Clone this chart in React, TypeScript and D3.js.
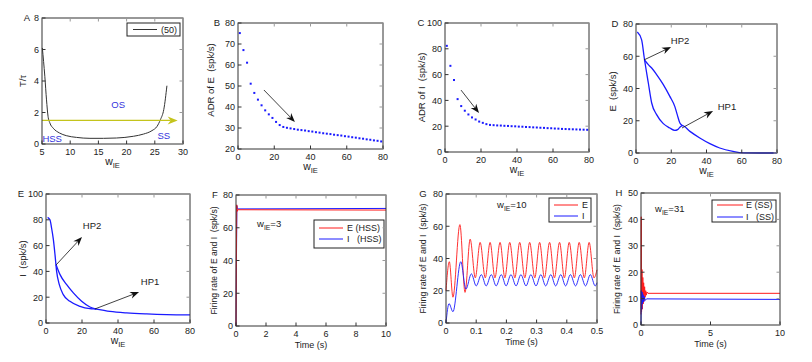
import React from 'react';
import * as d3 from 'd3';

const FONT = '"Liberation Sans", Arial, Helvetica, sans-serif';
const INK = '#222';
const RED = '#ff1a1a';
const BLUE = '#1a1aff';

// A: T/tau against w_IE
const aW = [5.06, 5.5, 5.8, 6.07, 6.4, 7, 8.1, 9.3, 11.1, 13.5, 15.9, 18.2, 21.2, 23, 24.5, 25.4, 26, 26.6, 27.15];
const aT = [6.1, 4.3, 2.8, 1.76, 1.33, 1.0, 0.7, 0.53, 0.42, 0.36, 0.36, 0.38, 0.49, 0.63, 0.85, 1.12, 1.55, 2.2, 3.7];

// B, C: average discharge rates
const wOdd = [1, 3, 5, 7, 9, 11, 13, 15, 17, 19, 21, 23, 25, 27, 29, 31, 33, 35, 37, 39,
  41, 43, 45, 47, 49, 51, 53, 55, 57, 59, 61, 63, 65, 67, 69, 71, 73, 75, 77, 79];
const adrE = [75.2, 67.1, 61.1, 51.1, 46.7, 43.5, 40.8, 38.4, 36.5, 34.8, 32.9, 31.4, 30.5, 30.1, 29.8, 29.5, 29.2, 29.0, 28.8, 28.5,
  28.3, 28.0, 27.8, 27.5, 27.3, 27.1, 26.8, 26.6, 26.4, 26.1, 25.9, 25.6, 25.4, 25.1, 24.9, 24.6, 24.4, 24.1, 23.9, 23.6];
const adrI = [82.3, 66.8, 55.8, 41, 35.6, 32, 29.1, 26.8, 25.2, 23.6, 22.6, 21.6, 21, 20.8, 20.6, 20.5, 20.3, 20.2, 20.0, 19.9,
  19.7, 19.6, 19.4, 19.3, 19.1, 19.0, 18.8, 18.7, 18.5, 18.4, 18.2, 18.1, 17.9, 17.8, 17.7, 17.6, 17.5, 17.4, 17.3, 17.2];

// D: E bifurcation branches
const dLowW = [0.75, 3.2, 4.7, 7, 8.9, 11.7, 15.5, 19.2, 22, 23.6, 24.9, 26.4, 30.6, 36.2, 41.9, 47.5, 55, 60.8, 70, 80];
const dLowE = [75, 70.2, 58.9, 43.4, 31, 23.8, 18.2, 15.5, 14, 14.5, 15.9, 17, 13.4, 9.3, 5.8, 3.1, 1, 0.1, 0, 0];
const dUpW = [4.9, 7, 8.9, 11.7, 15.5, 19.2, 22, 23.4, 24.9, 26.4];
const dUpE = [57.5, 54.8, 52.7, 48.6, 42.4, 35.1, 28.9, 23.8, 18.6, 17];

// E: I bifurcation branches
const eLowW = [0.9, 2.2, 3.1, 4.1, 5, 5.9, 7.4, 9.6, 13.3, 18.9, 24.4, 28, 35.5, 44.8, 55.9, 67, 80];
const eLowI = [81.9, 80, 73.6, 64.6, 53, 40, 29.7, 22, 16.8, 12.9, 11.1, 10.8, 9, 7.8, 7, 6.5, 6.3];
const eUpW = [5.6, 7.8, 11.5, 15.2, 19.8, 24.4, 28];
const eUpI = [45.2, 37.5, 29.7, 23.3, 16.8, 12.4, 10.8];

// F: w_IE = 3
const fTimeE = [0, 0.02, 0.05, 0.08, 0.12, 10];
const fRateE = [0, 35, 74, 70, 71, 70.8];
const fTimeI = [0, 0.03, 0.06, 0.09, 10];
const fRateI = [0, 40, 73.5, 71.5, 71.8];

// G: w_IE = 10
const gTimeE = [0, 0.011, 0.023, 0.046, 0.063, 0.080, 0.097, 0.113, 0.130, 0.146, 0.162, 0.179, 0.195, 0.211, 0.228, 0.244,
  0.261, 0.277, 0.294, 0.310, 0.326, 0.343, 0.359, 0.376, 0.392, 0.408, 0.425, 0.441, 0.458, 0.474, 0.490, 0.5];
const gRateE = [20, 38, 16, 61, 19, 52, 28, 50, 28, 50, 28, 50, 28, 50, 28, 50,
  28, 50, 28, 50, 28, 50, 28, 50, 28, 50, 28, 50, 28, 50, 28, 33];
const gTimeI = [0, 0.010, 0.023, 0.049, 0.066, 0.084, 0.100, 0.117, 0.133, 0.150, 0.166, 0.183, 0.199, 0.215, 0.232, 0.248,
  0.265, 0.281, 0.298, 0.314, 0.330, 0.347, 0.363, 0.380, 0.396, 0.412, 0.429, 0.445, 0.462, 0.478, 0.494, 0.5];
const gRateI = [0, 12, 7, 38, 21, 30.5, 23, 30, 23, 30, 23, 30, 23, 30, 23, 30,
  23, 30, 23, 30, 23, 30, 23, 30, 23, 30, 23, 30, 23, 30, 23, 25];

// H: w_IE = 31
const hTimeE = [0, 0.02, 0.04, 0.07, 0.1, 0.13, 0.16, 0.19, 0.22, 0.26, 0.3, 0.34, 0.38, 0.43, 0.5, 10];
const hRateE = [4, 41, 5, 21, 6, 18, 8, 16, 9, 14.5, 10.5, 13, 11.3, 12.5, 12, 12];
const hTimeI = [0, 0.02, 0.05, 0.08, 0.11, 0.15, 0.19, 0.24, 0.3, 0.4, 10];
const hRateI = [0, 13, 6, 12.5, 8, 11.5, 8.7, 10.8, 9.3, 9.9, 9.7];

type Frame = { l: number; r: number; t: number; b: number };
type Sc = d3.ScaleLinear<number, number>;

function Arrow({ x1, y1, x2, y2, color = '#111', len = 9, wid = 7, sw = 0.8 }:
  { x1: number; y1: number; x2: number; y2: number; color?: string; len?: number; wid?: number; sw?: number }) {
  const a = Math.atan2(y2 - y1, x2 - x1);
  const c = Math.cos(a), s = Math.sin(a);
  const bx = x2 - len * c, by = y2 - len * s;
  const nx = x2 - len * 0.7 * c, ny = y2 - len * 0.7 * s;
  const pts = `${x2},${y2} ${bx - s * wid / 2},${by + c * wid / 2} ${nx},${ny} ${bx + s * wid / 2},${by - c * wid / 2}`;
  return (
    <g>
      <line x1={x1} y1={y1} x2={nx} y2={ny} stroke={color} strokeWidth={sw} />
      <polygon points={pts} fill={color} />
    </g>
  );
}

function WIE({ x, y, anchor = 'middle', size = 10, rest = '' }: { x: number; y: number; anchor?: string; size?: number; rest?: string }) {
  return (
    <text x={x} y={y} textAnchor={anchor} fontSize={size} fill={INK}>
      <tspan>w</tspan>
      <tspan dy={3} fontSize={size * 0.72}>IE</tspan>
      {rest && <tspan dy={-3}>{rest}</tspan>}
    </text>
  );
}

function Panel({ f, xd, yd, xt, yt, letter, letterX, ylab, ylabX, ylabDy = 0, ylabLen, xlab, children }: {
  f: Frame; xd: [number, number]; yd: [number, number]; xt: number[]; yt: number[];
  letter: string; letterX: number; ylab: string; ylabX: number; ylabDy?: number; ylabLen?: number; xlab: 'w' | 'time';
  children: (x: Sc, y: Sc) => React.ReactNode;
}) {
  const x = d3.scaleLinear().domain(xd).range([f.l, f.r]);
  const y = d3.scaleLinear().domain(yd).range([f.b, f.t]);
  const tk = 3.5;
  const cx = (f.l + f.r) / 2;
  const cy = (f.t + f.b) / 2 + ylabDy;
  return (
    <g>
      {children(x, y)}
      <rect x={f.l} y={f.t} width={f.r - f.l} height={f.b - f.t} fill="none" stroke="#333" strokeWidth={1} />
      {xt.map((v) => (
        <g key={'x' + v}>
          <line x1={x(v)} x2={x(v)} y1={f.b} y2={f.b - tk} stroke="#333" />
          <line x1={x(v)} x2={x(v)} y1={f.t} y2={f.t + tk} stroke="#999" />
          <text x={x(v)} y={f.b + 10.5} textAnchor="middle" fontSize={9} fill={INK}>{v}</text>
        </g>
      ))}
      {yt.map((v) => (
        <g key={'y' + v}>
          <line x1={f.l} x2={f.l + tk} y1={y(v)} y2={y(v)} stroke="#333" />
          <line x1={f.r} x2={f.r - tk} y1={y(v)} y2={y(v)} stroke="#999" />
          <text x={f.l - 3} y={y(v) + 3.3} textAnchor="end" fontSize={9} fill={INK}>{v}</text>
        </g>
      ))}
      <text x={letterX} y={f.t + 3.3} textAnchor="middle" fontSize={9.5} fill={INK}>{letter}</text>
      <text transform={`translate(${ylabX},${cy}) rotate(-90)`} textAnchor="middle" dominantBaseline="central"
        fontSize={ylabLen ? 8.5 : 9.5} fill={INK} style={{ whiteSpace: 'pre' }}
        textLength={ylabLen} lengthAdjust={ylabLen ? 'spacingAndGlyphs' : undefined}>{ylab}</text>
      {xlab === 'w'
        ? <WIE x={cx} y={f.b + 21} size={10.5} />
        : <text x={cx} y={f.b + 22} textAnchor="middle" fontSize={9} fill={INK}>Time (s)</text>}
    </g>
  );
}

function Legend({ x0, x1, y0, y1, items }: {
  x0: number; x1: number; y0: number; y1: number; items: { label: string; color: string; y: number; lx0: number; lx1: number; tx: number }[];
}) {
  return (
    <g>
      <rect x={x0} y={y0} width={x1 - x0} height={y1 - y0} fill="#fff" stroke="#222" strokeWidth={1} />
      {items.map((it) => (
        <g key={it.label}>
          <line x1={it.lx0} x2={it.lx1} y1={it.y} y2={it.y} stroke={it.color} strokeWidth={1} />
          <text x={it.tx} y={it.y + 3.3} fontSize={9} fill={INK} style={{ whiteSpace: 'pre' }}>{it.label}</text>
        </g>
      ))}
    </g>
  );
}

function path(xs: number[], ys: number[], x: Sc, y: Sc, curve: d3.CurveFactory = d3.curveLinear) {
  const gen = d3.line<number>().x((_, i) => x(xs[i])).y((_, i) => y(ys[i])).curve(curve);
  return gen(xs) || '';
}

export default function App() {
  const wTicks = [0, 20, 40, 60, 80];
  return (
    <svg width={812} height={362} style={{ position: 'absolute', left: 0, top: 0, background: '#fff' }} fontFamily={FONT}>
      <rect width={812} height={362} fill="#fff" />

      <Panel f={{ l: 42, r: 183, t: 18, b: 144 }} xd={[5, 30]} yd={[0, 8]} xt={[5, 10, 15, 20, 25, 30]} yt={[0, 2, 4, 6, 8]}
        letter="A" letterX={27} ylab="T/τ" ylabX={22} xlab="w">
        {(x, y) => (
          <g>
            <path d={path(aW, aT, x, y, d3.curveMonotoneX)} fill="none" stroke="#333" strokeWidth={1} />
            <Arrow x1={x(5)} y1={y(1.5)} x2={x(29.05)} y2={y(1.5)} color="#c4c41c" len={10} wid={8} sw={1.4} />
            <text x={x(18.5)} y={y(2.5) + 3.5} textAnchor="middle" fontSize={9.5} fill="#3333dd">OS</text>
            <text x={x(6.8)} y={y(0.38) + 3.5} textAnchor="middle" fontSize={9.5} fill="#3333dd">HSS</text>
            <text x={x(26.6)} y={y(0.57) + 3.5} textAnchor="middle" fontSize={9.5} fill="#3333dd">SS</text>
            <Legend x0={127} x1={180} y0={23} y1={36}
              items={[{ label: '(50)', color: '#333', y: 29.5, lx0: 133, lx1: 157, tx: 161 }]} />
          </g>
        )}
      </Panel>

      <Panel f={{ l: 238, r: 383, t: 23, b: 149 }} xd={[0, 80]} yd={[20, 80]} xt={wTicks} yt={[20, 30, 40, 50, 60, 70, 80]}
        letter="B" letterX={217} ylab="ADR of E  (spk/s)" ylabX={210} ylabDy={-6} xlab="w">
        {(x, y) => (
          <g>
            {wOdd.map((w, i) => <rect key={w} x={x(w) - 1} y={y(adrE[i]) - 1} width={2} height={2} fill={BLUE} />)}
            <Arrow x1={x(14.3)} y1={y(48.1)} x2={x(31.4)} y2={y(32.9)} />
          </g>
        )}
      </Panel>

      <Panel f={{ l: 445, r: 589, t: 23, b: 152 }} xd={[0, 80]} yd={[0, 100]} xt={wTicks} yt={[0, 20, 40, 60, 80, 100]}
        letter="C" letterX={421} ylab="ADR of I  (spk/s)" ylabX={421} xlab="w">
        {(x, y) => (
          <g>
            {wOdd.map((w, i) => <rect key={w} x={x(w) - 1} y={y(adrI[i]) - 1} width={2} height={2} fill={BLUE} />)}
            <Arrow x1={x(8.9)} y1={y(48)} x2={x(18.9)} y2={y(30.2)} />
          </g>
        )}
      </Panel>

      <Panel f={{ l: 636, r: 777, t: 24, b: 153 }} xd={[0, 80]} yd={[0, 80]} xt={wTicks} yt={[0, 20, 40, 60, 80]}
        letter="D" letterX={615} ylab="E  (spk/s)" ylabX={612} ylabDy={3} xlab="w">
        {(x, y) => (
          <g>
            <path d={path(dLowW, dLowE, x, y, d3.curveMonotoneX)} fill="none" stroke={BLUE} strokeWidth={1.3} />
            <path d={path(dUpW, dUpE, x, y, d3.curveMonotoneX)} fill="none" stroke={BLUE} strokeWidth={1.3} />
            <Arrow x1={x(4.5)} y1={y(57.7)} x2={x(19.9)} y2={y(65.7)} />
            <Arrow x1={x(26.1)} y1={y(15.5)} x2={x(43.7)} y2={y(26)} />
            <text x={x(25)} y={y(69.5) + 3.5} textAnchor="middle" fontSize={9.5} fill={INK}>HP2</text>
            <text x={x(51.6)} y={y(29.1) + 3.5} textAnchor="middle" fontSize={9.5} fill={INK}>HP1</text>
          </g>
        )}
      </Panel>

      <Panel f={{ l: 46, r: 190, t: 194, b: 323 }} xd={[0, 80]} yd={[0, 100]} xt={wTicks} yt={[0, 20, 40, 60, 80, 100]}
        letter="E" letterX={21} ylab="I  (spk/s)" ylabX={22} xlab="w">
        {(x, y) => (
          <g>
            <path d={path(eLowW, eLowI, x, y, d3.curveMonotoneX)} fill="none" stroke={BLUE} strokeWidth={1.3} />
            <path d={path(eUpW, eUpI, x, y, d3.curveMonotoneX)} fill="none" stroke={BLUE} strokeWidth={1.3} />
            <Arrow x1={x(5.6)} y1={y(45)} x2={x(20)} y2={y(66.7)} />
            <Arrow x1={x(27.2)} y1={y(10.9)} x2={x(51.7)} y2={y(24)} />
            <text x={x(25.6)} y={y(75.2) + 3.5} textAnchor="middle" fontSize={9.5} fill={INK}>HP2</text>
            <text x={x(57.8)} y={y(31.8) + 3.5} textAnchor="middle" fontSize={9.5} fill={INK}>HP1</text>
          </g>
        )}
      </Panel>

      <Panel f={{ l: 236, r: 386, t: 195, b: 326 }} xd={[0, 10]} yd={[0, 80]} xt={[0, 2, 4, 6, 8, 10]} yt={[0, 20, 40, 60, 80]}
        letter="F" letterX={215} ylab="Firing rate of E and I  (spk/s)" ylabX={214} ylabLen={108} xlab="time">
        {(x, y) => (
          <g>
            <path d={path(fTimeI, fRateI, x, y)} fill="none" stroke={BLUE} strokeWidth={1} />
            <path d={path(fTimeE, fRateE, x, y)} fill="none" stroke={RED} strokeWidth={1} />
            <WIE x={257} y={227} anchor="start" size={9.5} rest="=3" />
            <Legend x0={314} x1={384} y0={220} y1={248} items={[
              { label: 'E (HSS)', color: RED, y: 228, lx0: 319, lx1: 343, tx: 347 },
              { label: 'I   (HSS)', color: BLUE, y: 239, lx0: 319, lx1: 343, tx: 347 },
            ]} />
          </g>
        )}
      </Panel>

      <Panel f={{ l: 446, r: 597, t: 194, b: 323 }} xd={[0, 0.5]} yd={[0, 80]} xt={[0, 0.1, 0.2, 0.3, 0.4, 0.5]} yt={[0, 20, 40, 60, 80]}
        letter="G" letterX={423} ylab="Firing rate of E and I  (spk/s)" ylabX={423} ylabLen={110} xlab="time">
        {(x, y) => (
          <g>
            <path d={path(gTimeE, gRateE, x, y, d3.curveMonotoneX)} fill="none" stroke={RED} strokeWidth={0.9} />
            <path d={path(gTimeI, gRateI, x, y, d3.curveMonotoneX)} fill="none" stroke={BLUE} strokeWidth={0.9} />
            <WIE x={497} y={208} anchor="start" size={9.5} rest="=10" />
            <Legend x0={549} x1={591} y0={198} y1={222} items={[
              { label: 'E', color: RED, y: 205, lx0: 554, lx1: 578, tx: 582 },
              { label: 'I', color: BLUE, y: 216, lx0: 554, lx1: 578, tx: 582 },
            ]} />
          </g>
        )}
      </Panel>

      <Panel f={{ l: 641, r: 780, t: 193, b: 325 }} xd={[0, 10]} yd={[0, 50]} xt={[0, 5, 10]} yt={[0, 10, 20, 30, 40, 50]}
        letter="H" letterX={619} ylab="Firing rate of E and I  (spk/s)" ylabX={617} ylabLen={110} xlab="time">
        {(x, y) => (
          <g>
            <path d={path(hTimeE, hRateE, x, y)} fill="none" stroke={RED} strokeWidth={1} />
            <path d={path(hTimeI, hRateI, x, y)} fill="none" stroke={BLUE} strokeWidth={1} />
            <WIE x={655} y={212} anchor="start" size={9.5} rest="=31" />
            <Legend x0={712} x1={776} y0={200} y1={222} items={[
              { label: 'E (SS)', color: RED, y: 205, lx0: 717, lx1: 743, tx: 746 },
              { label: 'I   (SS)', color: BLUE, y: 217, lx0: 717, lx1: 743, tx: 746 },
            ]} />
          </g>
        )}
      </Panel>
    </svg>
  );
}
